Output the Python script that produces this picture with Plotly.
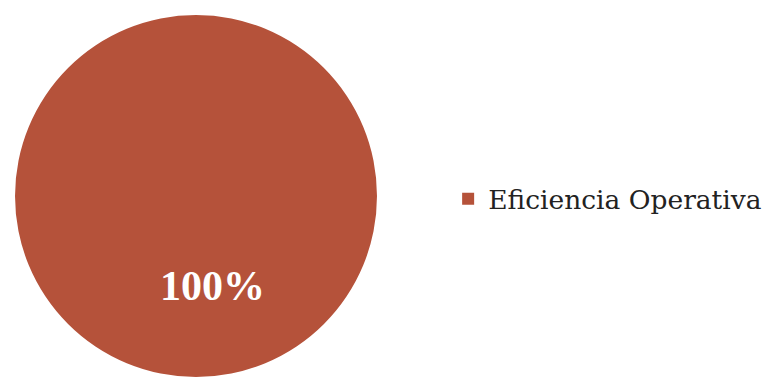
import plotly.graph_objects as go

labels = ["Eficiencia Operativa"]
values = [100]
colors = ["#b5523a"]

total = sum(values)
pct_text = [f"{round(v / total * 100)}%" for v in values]

fig = go.Figure()
fig.add_trace(go.Pie(
    labels=labels,
    values=values,
    marker=dict(colors=colors, line=dict(width=0)),
    textinfo="none",
    sort=False,
    domain=dict(x=[0.0195, 0.4896], y=[0.0053, 0.9604]),
    showlegend=True,
    hoverinfo="label+percent",
))

fig.add_annotation(
    x=0.2766, y=0.245, xref="paper", yref="paper",
    text=f"<b>{pct_text[0]}</b>", showarrow=False,
    font=dict(family="Liberation Serif", size=42, color="white"),
    xanchor="center", yanchor="middle",
)

fig.update_layout(
    width=770, height=379,
    margin=dict(l=0, r=0, t=0, b=0),
    paper_bgcolor="white", plot_bgcolor="white",
    legend=dict(
        x=0.582, y=0.475, xanchor="left", yanchor="middle",
        font=dict(family="DejaVu Serif", size=26.5, color="#222222"),
        itemsizing="constant",
    ),
)

fig.write_html("out.html")
